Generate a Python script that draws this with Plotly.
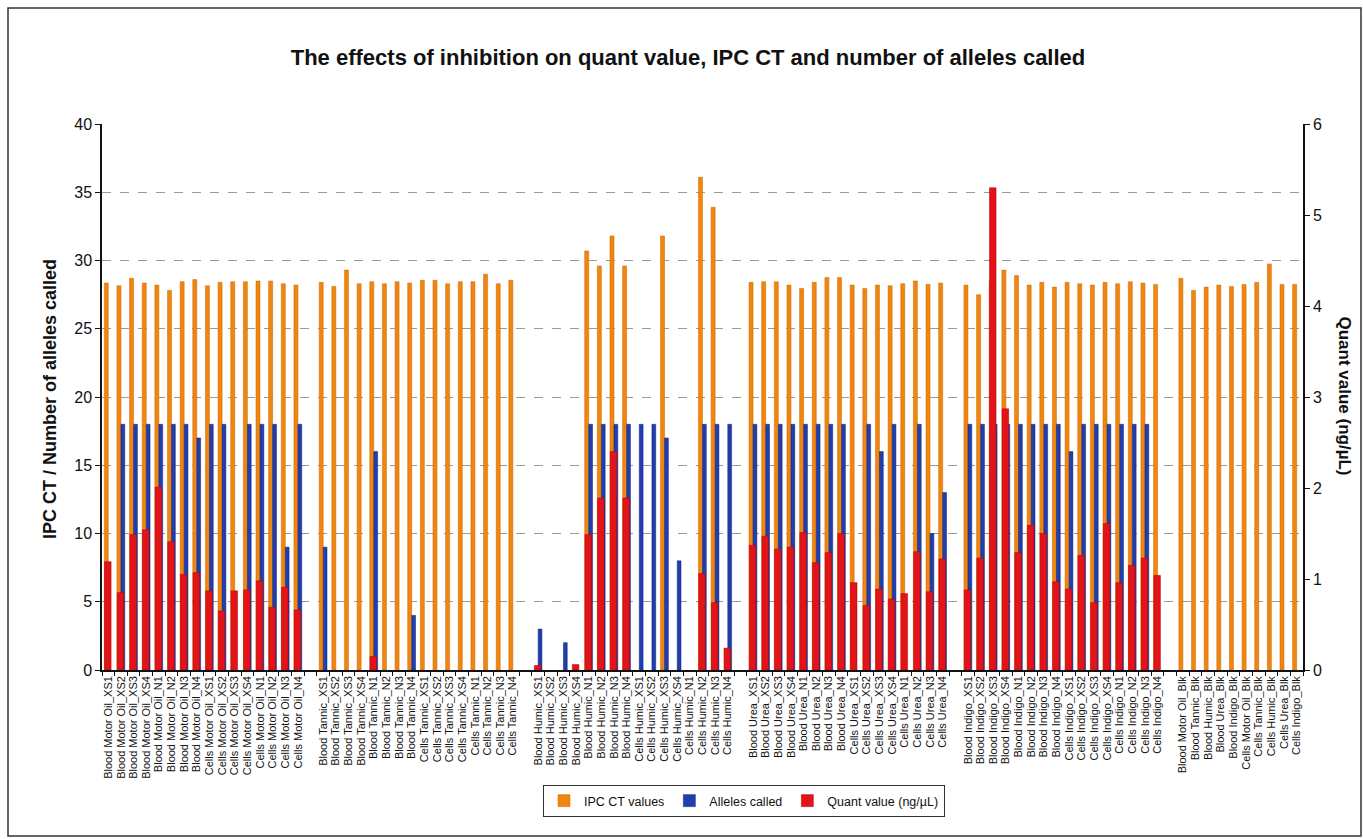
import plotly.graph_objects as go

# ---------------- data ----------------
inhibitors = ["Motor Oil", "Tannic", "Humic", "Urea", "Indigo"]
suffixes = ["XS1", "XS2", "XS3", "XS4", "N1", "N2", "N3", "N4"]
blank_labels = ["Blood Motor Oil_Blk", "Blood Tannic_Blk", "Blood Humic_Blk", "Blood Urea_Blk",
                "Blood Indigo_Blk", "Cells Motor Oil_Blk", "Cells Tannic_Blk", "Cells Humic_Blk",
                "Cells Urea_Blk", "Cells Indigo_Blk"]

# IPC CT values (left axis)
motor_ct = [28.35, 28.15, 28.7, 28.35, 28.2, 27.8, 28.45, 28.6, 28.15, 28.4, 28.45, 28.45, 28.5, 28.5, 28.3, 28.2]
tannic_ct = [28.4, 28.1, 29.3, 28.3, 28.45, 28.3, 28.45, 28.35, 28.55, 28.55, 28.3, 28.45, 28.45, 29.0, 28.3, 28.55]
humic_ct = [None, None, None, None, 30.7, 29.6, 31.8, 29.6, None, None, 31.8, None, None, 36.1, 33.9, None]
urea_ct = [28.4, 28.45, 28.45, 28.2, 27.95, 28.4, 28.75, 28.75, 28.2, 27.95, 28.2, 28.15, 28.3, 28.5, 28.25, 28.35]
indigo_ct = [28.2, 27.5, 28.5, 29.3, 28.9, 28.2, 28.4, 28.05, 28.4, 28.3, 28.2, 28.4, 28.3, 28.45, 28.35, 28.25]
blk_ct = [28.7, 27.8, 28.05, 28.2, 28.1, 28.25, 28.4, 29.75, 28.25, 28.25]

# Alleles called (left axis)
motor_al = [None, 18, 18, 18, 18, 18, 18, 17, 18, 18, None, 18, 18, 18, 9, 18]
tannic_al = [9, None, None, None, 16, None, None, 4, None, None, None, None, None, None, None, None]
humic_al = [3, None, 2, None, 18, 18, 18, 18, 18, 18, 17, 8, None, 18, 18, 18]
urea_al = [18, 18, 18, 18, 18, 18, 18, 18, None, 18, 16, 18, None, 18, 10, 13]
indigo_al = [18, 18, 18, 18, 18, 18, 18, 18, 16, 18, 18, 18, 18, 18, 18, None]
blk_al = [None] * 10

# Quant value ng/uL (right axis)
motor_q = [1.19, 0.85, 1.49, 1.54, 2.01, 1.41, 1.05, 1.07, 0.87, 0.65, 0.87, 0.88, 0.98, 0.69, 0.91, 0.66]
tannic_q = [None, None, None, None, 0.15, None, None, None, None, None, None, None, None, None, None, None]
humic_q = [0.05, None, None, 0.06, 1.49, 1.89, 2.40, 1.89, None, None, None, None, None, 1.06, 0.74, 0.24]
urea_q = [1.37, 1.47, 1.33, 1.35, 1.51, 1.18, 1.29, 1.50, 0.96, 0.71, 0.89, 0.78, 0.84, 1.30, 0.86, 1.22]
indigo_q = [0.88, 1.23, 5.30, 2.87, 1.29, 1.59, 1.50, 0.97, 0.89, 1.26, 0.74, 1.61, 0.96, 1.15, 1.23, 1.04]
blk_q = [None] * 10

# ---------------- assemble categories (blank category between groups) ----------------
cats, ct, al, q = [], [], [], []
groups_ct = [motor_ct, tannic_ct, humic_ct, urea_ct, indigo_ct]
groups_al = [motor_al, tannic_al, humic_al, urea_al, indigo_al]
groups_q = [motor_q, tannic_q, humic_q, urea_q, indigo_q]
for gi, name in enumerate(inhibitors):
    labels = [f"{src} {name}_{s}" for src in ("Blood", "Cells") for s in suffixes]
    cats += labels
    ct += groups_ct[gi]
    al += groups_al[gi]
    q += groups_q[gi]
    cats.append(" " * (gi + 1))
    ct.append(None); al.append(None); q.append(None)
cats += blank_labels
ct += blk_ct
al += blk_al
q += blk_q

ORANGE = "#F0850F"
BLUE = "#1F3EB0"
RED = "#E2141A"
FONT = "Liberation Sans, Arial, sans-serif"

fig = go.Figure()
fig.add_trace(go.Bar(x=cats, y=ct, name="IPC CT values", marker=dict(color=ORANGE, line=dict(color="#C86A00", width=0.5)),
                     offset=-0.32, width=0.32, yaxis="y"))
fig.add_trace(go.Bar(x=cats, y=al, name="Alleles called", marker=dict(color=BLUE, line=dict(color="#102070", width=0.5)),
                     offset=0.0, width=0.3, yaxis="y"))
fig.add_trace(go.Bar(x=cats, y=q, name="Quant value (ng/µL)", marker=dict(color=RED, line=dict(color="#B00000", width=0.5)),
                     offset=-0.3, width=0.52, yaxis="y2"))

L, R, T, B = 102, 60, 124, 169
W, H = 1363, 839
pw, ph = W - L - R, H - T - B

def px(xp):
    return (xp - L) / pw

def py(yp):
    return (H - B - yp) / ph

fig.update_layout(
    width=W, height=H,
    margin=dict(l=L, r=R, t=T, b=B, autoexpand=False),
    paper_bgcolor="white", plot_bgcolor="white",
    barmode="overlay",
    font=dict(family=FONT, color="#111111"),
    title=dict(text="<b>The effects of inhibition on quant value, IPC CT and number of alleles called</b>",
               x=688 / W, xanchor="center", y=1 - 57 / H, yanchor="middle",
               font=dict(size=22, family=FONT, color="#111111")),
    xaxis=dict(type="category", categoryorder="array", categoryarray=cats,
               tickmode="array", tickvals=cats, ticktext=cats,
               tickangle=-90, tickfont=dict(size=11, family=FONT, color="#111111"),
               showline=True, linecolor="#111111", linewidth=1.5,
               ticks="outside", ticklen=4, tickcolor="#111111", tickson="boundaries",
               showgrid=False, range=[-0.5, len(cats) - 0.5]),
    yaxis=dict(range=[0, 40], dtick=5, showline=True, linecolor="#111111", linewidth=1.5,
               ticks="outside", ticklen=5, tickcolor="#111111",
               tickfont=dict(size=16, family=FONT, color="#111111"),
               showgrid=True, gridcolor="#9a9a9a", griddash="dash", gridwidth=1, zeroline=False),
    yaxis2=dict(range=[0, 6], dtick=1, overlaying="y", side="right", showline=True,
                linecolor="#111111", linewidth=1.5, ticks="outside", ticklen=5, tickcolor="#111111",
                tickfont=dict(size=16, family=FONT, color="#111111"), showgrid=False, zeroline=False),
    legend=dict(orientation="h", x=px(744), xanchor="center", y=py(801), yanchor="middle",
                bordercolor="#333333", borderwidth=1, bgcolor="white",
                font=dict(size=12.5, family=FONT, color="#111111"), itemwidth=30, tracegroupgap=0),
    showlegend=True,
)

fig.add_annotation(text="<b>IPC CT / Number of alleles called</b>", xref="paper", yref="paper",
                   x=px(38), y=py(399), textangle=-90, showarrow=False,
                   font=dict(size=18, family=FONT, color="#111111"))
fig.add_annotation(text="<b>Quant value (ng/µL)</b>", xref="paper", yref="paper",
                   x=px(1356), y=py(396), textangle=90, showarrow=False,
                   font=dict(size=17, family=FONT, color="#111111"))

fig.add_shape(type="rect", xref="paper", yref="paper",
              x0=px(8), x1=px(1361), y0=py(836), y1=py(8),
              line=dict(color="#333333", width=1.5), fillcolor="rgba(0,0,0,0)", layer="below")

fig.write_html("out.html", config={"displayModeBar": False},
               post_script="document.body.style.margin='0';document.body.style.padding='0';")
